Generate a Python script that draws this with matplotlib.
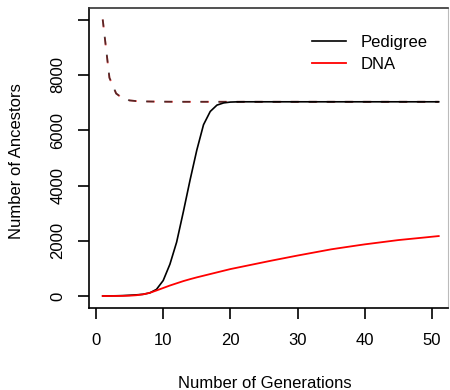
import numpy as np
import matplotlib
matplotlib.use("Agg")
import matplotlib.pyplot as plt

plt.rcParams['font.family'] = ['Liberation Sans', 'DejaVu Sans']

generations = list(range(1, 52))

# genealogical (pedigree) ancestors per generation
pedigree = [2, 4, 8, 15, 28, 42, 62, 112, 240, 560,
            1150, 1950, 3050, 4200, 5280, 6200, 6680, 6910, 6990, 7020,
            7028, 7030, 7030, 7030, 7030, 7030, 7030, 7030, 7030, 7030,
            7030, 7030, 7030, 7030, 7030, 7030, 7030, 7030, 7030, 7030,
            7030, 7030, 7030, 7030, 7030, 7030, 7030, 7030, 7030, 7030,
            7030]

# ancestors that actually pass on DNA
dna = [0, 0, 2, 5, 12, 28, 60, 115, 200, 290,
       380, 460, 540, 610, 675, 735, 795, 855, 915, 975,
       1025, 1075, 1125, 1175, 1225, 1275, 1323, 1370, 1418, 1465,
       1510, 1555, 1600, 1645, 1690, 1727, 1763, 1799, 1835, 1870,
       1901, 1932, 1963, 1994, 2025, 2049, 2073, 2097, 2121, 2146,
       2170]

# population size limits (dashed)
ped_limit = [10010, 7900, 7330, 7150, 7080, 7055, 7045, 7040, 7036, 7034,
             7032, 7031, 7030, 7030, 7030, 7030, 7030, 7030, 7030, 7030,
             7030, 7030, 7030, 7030, 7030, 7030, 7030, 7030, 7030, 7030,
             7030, 7030, 7030, 7030, 7030, 7030, 7030, 7030, 7030, 7030,
             7030, 7030, 7030, 7030, 7030, 7030, 7030, 7030, 7030, 7030,
             7030]
dna_limit = ped_limit

yticks = [0, 2000, 4000, 6000, 8000, 10000]
ytick_labels = ['0', '2000', '4000', '6000', '8000', '']
xticks = [0, 10, 20, 30, 40, 50]

fig = plt.figure(figsize=(4.5, 3.9), dpi=100)
ax = fig.add_axes([89/450, 1-308/390, 359/450, 300/390])

# limits: red and black dashes overlap slightly
ax.plot(generations, dna_limit, color='red', lw=1.3, ls=(0, (4.5, 5.5)), alpha=0.6)
ax.plot(generations, ped_limit, color='black', lw=1.3, ls=(0.4, (4.5, 5.5)), alpha=0.65)
ax.plot(generations, pedigree, color='black', lw=1.2, label='Pedigree')
ax.plot(generations, dna, color='red', lw=1.3, label='DNA')

ax.set_xlim(-1.04, 52.38)
ax.set_ylim(-434, 10425)
ax.set_xticks(xticks)
ax.set_yticks(yticks)
ax.set_yticklabels(ytick_labels, rotation=90, va='center')
ax.tick_params(axis='both', direction='out', length=8, width=1.2, labelsize=12)
ax.tick_params(axis='x', pad=10)
ax.tick_params(axis='y', pad=9)

for side in ['left', 'bottom']:
    ax.spines[side].set_linewidth(1.2)
ax.spines['top'].set_color('#333333')
ax.spines['top'].set_linewidth(1.2)
ax.spines['right'].set_color('#bbbbbb')

ax.set_xlabel('Number of Generations', fontsize=12)
ax.set_ylabel('Number of Ancestors', fontsize=12)
ax.xaxis.set_label_coords(0.49, -0.225)
ax.yaxis.set_label_coords(-0.182, 0.49)

ax.legend(loc='upper left', bbox_to_anchor=(0.621, 0.91), frameon=False,
          fontsize=12, handlelength=2.04, handletextpad=0.9, labelspacing=0.4,
          borderaxespad=0, borderpad=0)

fig.savefig('out.png', dpi=100)
